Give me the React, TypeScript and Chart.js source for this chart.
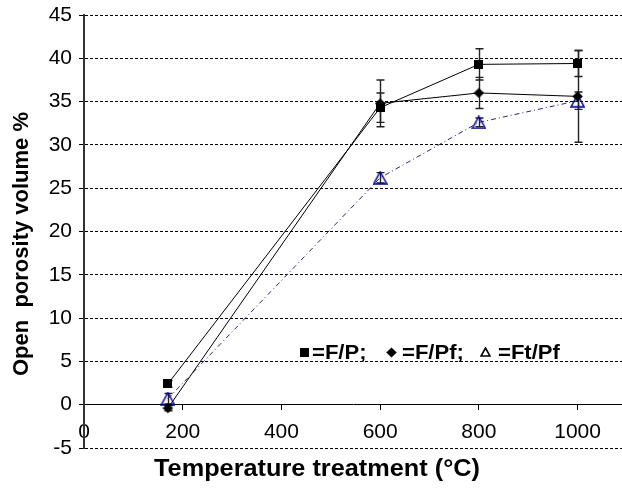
import React, { useEffect, useRef } from 'react';
import { Chart, registerables } from 'chart.js';

Chart.register(...registerables);

// ---- data ----
const temperatures = [170, 600, 800, 1000];
const seriesFP = [2.4, 34.3, 39.3, 39.4];
const errFP = [0.4, 1.7, 1.8, 1.5];
const seriesFPf = [-0.4, 34.8, 36.0, 35.6];
const errFPf = [0.3, 2.7, 1.8, 5.3];
const seriesFtPf = [0.7, 26.2, 32.6, 35.1];
const errFtPf = [0.6, 0.6, 0.5, 1.0];
const seriesNames = ['F/P', 'F/Pf', 'Ft/Pf'];
const legendLabels = ['=F/P;', '=F/Pf;', '=Ft/Pf'];
const xTicks = [0, 200, 400, 600, 800, 1000];
const xTitle = 'Temperature treatment (°C)';
const yTitle = 'Open  porosity volume %';
const yMin = -5;
const yMax = 45;
const yStep = 5;
const xMin = 0;
const xMax = 1090;

const FONT = '"Liberation Sans", Arial, Helvetica, sans-serif';
const NAVY = '#000099';

function makeMarker(kind: string, small = false): HTMLCanvasElement {
  const c = document.createElement('canvas');
  const g = c.getContext('2d')!;
  if (kind === 'square') {
    c.width = 9; c.height = 9;
    g.fillStyle = '#000';
    g.fillRect(0, 0, 9, 9);
  } else if (kind === 'diamond') {
    c.width = 11; c.height = 11;
    g.fillStyle = '#000';
    g.beginPath();
    g.moveTo(5.5, 0.5); g.lineTo(10.8, 5.5); g.lineTo(5.5, 10.5); g.lineTo(0.2, 5.5);
    g.closePath(); g.fill();
  } else {
    if (small) {
      c.width = 11; c.height = 10;
      g.strokeStyle = '#000';
      g.lineWidth = 1.6;
      g.beginPath();
      g.moveTo(5.5, 1); g.lineTo(10, 9); g.lineTo(1, 9); g.closePath(); g.stroke();
    } else {
      c.width = 15; c.height = 14;
      g.strokeStyle = NAVY;
      g.lineWidth = 1.5;
      g.beginPath();
      g.moveTo(7.5, 1); g.lineTo(14, 13); g.lineTo(1, 13); g.closePath(); g.stroke();
    }
  }
  return c;
}

const errorSets = [errFP, errFPf, errFtPf];

const errorBarPlugin = {
  id: 'errorBars',
  beforeDatasetsDraw(chart: any) {
    const { ctx, scales } = chart;
    const x = scales.x, y = scales.y;
    ctx.save();
    ctx.strokeStyle = '#222';
    ctx.lineWidth = 1.4;
    chart.data.datasets.forEach((ds: any, di: number) => {
      const errs = errorSets[di];
      ds.data.forEach((p: any, i: number) => {
        const e = errs[i];
        const px = Math.round(x.getPixelForValue(p.x)) + 0.5;
        const top = y.getPixelForValue(p.y + e);
        const bot = y.getPixelForValue(p.y - e);
        ctx.beginPath();
        ctx.moveTo(px, top); ctx.lineTo(px, bot);
        ctx.moveTo(px - 4, top); ctx.lineTo(px + 4, top);
        ctx.moveTo(px - 4, bot); ctx.lineTo(px + 4, bot);
        ctx.stroke();
      });
    });
    ctx.restore();
  },
};

const titlesPlugin = {
  id: 'axisTitles',
  afterDraw(chart: any) {
    const ctx = chart.ctx;
    ctx.save();
    ctx.fillStyle = '#000';
    ctx.font = `bold 23px ${FONT}`;
    ctx.textAlign = 'center';
    ctx.textBaseline = 'middle';
    ctx.save();
    ctx.translate(317, 470);
    ctx.scale(1.1, 1);
    ctx.fillText(xTitle, 0, 0);
    ctx.restore();
    ctx.font = `bold 22px ${FONT}`;
    ctx.translate(22, 244);
    ctx.rotate(-Math.PI / 2);
    ctx.fillText(yTitle, 0, 0);
    ctx.restore();
  },
};

function makeLegendPlugin(markers: HTMLCanvasElement[]) {
  const markerLeft = [300, 386, 480];
  const textLeft = [312, 402, 498];
  return {
    id: 'textLegend',
    afterDraw(chart: any) {
      const ctx = chart.ctx;
      ctx.save();
      ctx.fillStyle = '#000';
      ctx.font = `bold 21px ${FONT}`;
      ctx.textAlign = 'left';
      ctx.textBaseline = 'middle';
      const cy = 352;
      seriesNames.forEach((_n, i) => {
        const m = markers[i];
        ctx.drawImage(m, markerLeft[i], Math.round(cy - m.height / 2));
        ctx.save();
        ctx.translate(textLeft[i], cy + 1);
        ctx.scale(1.05, 1);
        ctx.fillText(legendLabels[i], 0, 0);
        ctx.restore();
      });
      ctx.restore();
    },
  };
}

export default function App() {
  const ref = useRef<HTMLCanvasElement>(null);
  useEffect(() => {
    document.body.style.margin = '0';
    const sq = makeMarker('square');
    const di = makeMarker('diamond');
    const tr = makeMarker('triangle');
    const legendMarkers = [makeMarker('square'), makeMarker('diamond'), makeMarker('triangle', true)];
    const toPts = (vals: number[]) => temperatures.map((t, i) => ({ x: t, y: vals[i] }));
    const chart = new Chart(ref.current!, {
      type: 'scatter',
      data: {
        datasets: [
          {
            label: seriesNames[0],
            data: toPts(seriesFP),
            showLine: true,
            borderColor: '#000',
            borderWidth: 1,
            pointStyle: sq as any,
            pointRadius: 5,
          },
          {
            label: seriesNames[1],
            data: toPts(seriesFPf),
            showLine: true,
            borderColor: '#000',
            borderWidth: 1,
            pointStyle: di as any,
            pointRadius: 5,
          },
          {
            label: seriesNames[2],
            data: toPts(seriesFtPf),
            showLine: true,
            borderColor: '#2a2a70',
            borderWidth: 1,
            borderDash: [5, 3, 1, 3],
            pointStyle: tr as any,
            pointRadius: 6,
          },
        ],
      },
      options: {
        animation: false,
        responsive: false,
        devicePixelRatio: 1,
        layout: { autoPadding: false, padding: { top: 15, bottom: 44, left: 0, right: 0 } },
        plugins: {
          legend: { display: false },
          tooltip: { enabled: false },
        },
        scales: {
          x: {
            type: 'linear',
            min: xMin,
            max: xMax,
            position: { y: 0 } as any,
            afterBuildTicks: (s: any) => {
              s.ticks = xTicks.map((v) => ({ value: v }));
            },
            afterFit: (s: any) => {
              s.paddingLeft = 0;
              s.paddingRight = 0;
            },
            ticks: {
              color: '#000',
              font: { family: FONT, size: 21 },
              padding: 10,
              maxRotation: 0,
              autoSkip: false,
              callback: (v: any) => String(v),
            },
            grid: {
              drawOnChartArea: false,
              drawTicks: true,
              tickLength: 5,
              tickColor: '#000',
              color: '#000',
            },
            border: { display: true, color: '#000', width: 1 },
          },
          y: {
            type: 'linear',
            position: 'left',
            min: yMin,
            max: yMax,
            afterFit: (s: any) => {
              s.width = 84;
              s.paddingTop = 0;
              s.paddingBottom = 0;
            },
            ticks: {
              stepSize: yStep,
              color: '#000',
              font: { family: FONT, size: 21 },
              padding: 7,
            },
            grid: {
              color: '#000',
              lineWidth: 1,
              drawTicks: true,
              tickLength: 5,
              tickColor: '#000',
            },
            border: { display: true, color: '#333', width: 2, dash: [3, 2] },
          },
        },
      },
      plugins: [errorBarPlugin, titlesPlugin, makeLegendPlugin(legendMarkers)],
    });
    return () => chart.destroy();
  }, []);
  return (
    <div style={{ width: 622, height: 492 }}>
      <canvas ref={ref} width={622} height={492} />
    </div>
  );
}
